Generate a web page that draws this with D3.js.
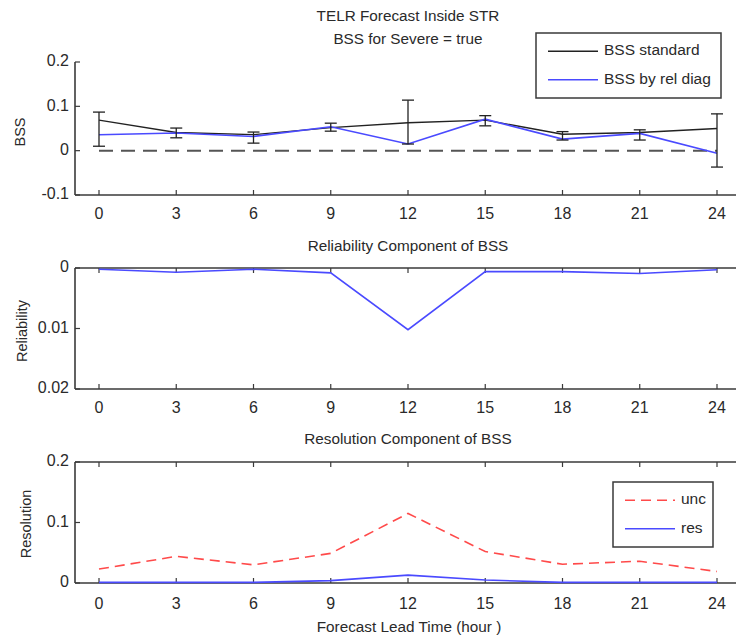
<!DOCTYPE html>
<html>
<head>
<meta charset="utf-8">
<script src="https://cdn.jsdelivr.net/npm/d3@7"></script>
<style>
body { margin: 0; background: #fff; }
text { font-family: "Liberation Sans", Arial, sans-serif; fill: #2a2a2a; }
</style>
</head>
<body>
<svg id="chart" width="736" height="641"></svg>
<script>
// valeurs
var leadTimes = [0, 3, 6, 9, 12, 15, 18, 21, 24];
var bssStandard = [0.069, 0.041, 0.036, 0.052, 0.063, 0.069, 0.037, 0.041, 0.050];
var bssUpper = [0.087, 0.051, 0.042, 0.062, 0.114, 0.079, 0.043, 0.047, 0.083];
var bssLower = [0.010, 0.029, 0.017, 0.044, 0.015, 0.056, 0.024, 0.024, -0.037];
var bssRelDiag = [0.036, 0.040, 0.032, 0.054, 0.015, 0.071, 0.026, 0.039, -0.006];
var reliability = [0.0002, 0.0007, 0.0002, 0.0008, 0.0102, 0.0006, 0.0006, 0.0009, 0.0003];
var uncValues = [0.023, 0.044, 0.030, 0.049, 0.115, 0.052, 0.031, 0.036, 0.019];
var resValues = [0.001, 0.001, 0.001, 0.004, 0.013, 0.005, 0.001, 0.001, 0.001];
var bssTicks = [-0.1, 0, 0.1, 0.2];
var relTicks = [0, 0.01, 0.02];
var resTicks = [0, 0.1, 0.2];

var svg = d3.select("#chart");
var left = 75, right = 760;
var axisColor = "#3a3a3a";
var blue = "#4a4aff";

var x = d3.scaleLinear().domain([0, 24]).range([99, 717]);

function fmt(d){ return d === 0 ? "0" : String(d); }

function drawPanel(y, ticks, boxed, xLabelY){
    let g = svg.append("g");
    let y0 = y.range()[0], y1 = y.range()[1];
    let bottom = Math.max(y0, y1), top = Math.min(y0, y1);
    // cadre
    g.append("line").attr("x1", left).attr("x2", left).attr("y1", top).attr("y2", bottom)
        .attr("stroke", axisColor).attr("stroke-width", 1.6);
    g.append("line").attr("x1", left).attr("x2", right).attr("y1", bottom).attr("y2", bottom)
        .attr("stroke", axisColor).attr("stroke-width", 1.6);
    if (boxed){
        g.append("line").attr("x1", left).attr("x2", right).attr("y1", top).attr("y2", top)
            .attr("stroke", axisColor).attr("stroke-width", 1.6);
    }
    // ticks x
    for (let t of leadTimes){
        g.append("line").attr("x1", x(t)).attr("x2", x(t)).attr("y1", bottom).attr("y2", bottom - 5)
            .attr("stroke", axisColor).attr("stroke-width", 1.2);
        if (boxed){
            g.append("line").attr("x1", x(t)).attr("x2", x(t)).attr("y1", top).attr("y2", top + 5)
                .attr("stroke", axisColor).attr("stroke-width", 1.2);
        }
        g.append("text").attr("x", x(t)).attr("y", xLabelY).attr("text-anchor", "middle")
            .attr("dominant-baseline", "middle").style("font-size", "16px").text(t);
    }
    // ticks y
    for (let t of ticks){
        g.append("line").attr("x1", left).attr("x2", left + 5).attr("y1", y(t)).attr("y2", y(t))
            .attr("stroke", axisColor).attr("stroke-width", 1.2);
        g.append("text").attr("x", left - 6).attr("y", y(t)).attr("text-anchor", "end")
            .attr("dominant-baseline", "middle").style("font-size", "16px").text(fmt(t));
    }
    return g;
}

function yLabel(txt, cx, cy){
    svg.append("text").attr("transform", "translate(" + cx + "," + cy + ") rotate(-90)")
        .attr("text-anchor", "middle").attr("dominant-baseline", "middle")
        .style("font-size", "14.5px").text(txt);
}

function title(txt, cy){
    svg.append("text").attr("x", 408).attr("y", cy).attr("text-anchor", "middle")
        .attr("dominant-baseline", "middle").style("font-size", "15.3px").text(txt);
}

function legend(items, bx, by, bw, bh){
    let g = svg.append("g");
    g.append("rect").attr("x", bx).attr("y", by).attr("width", bw).attr("height", bh)
        .attr("fill", "#fff").attr("stroke", axisColor).attr("stroke-width", 1.5);
    items.forEach((it, i) => {
        let ry = by + bh * (i + 0.5) / items.length + (i === 0 ? 2 : -2);
        g.append("line").attr("x1", bx + 12).attr("x2", bx + 62).attr("y1", ry).attr("y2", ry)
            .attr("stroke", it.color).attr("stroke-width", 1.5)
            .attr("stroke-dasharray", it.dash || null);
        g.append("text").attr("x", bx + 68).attr("y", ry).attr("dominant-baseline", "middle")
            .style("font-size", "15.5px").text(it.label);
    });
}

let line = (ys, yScale) => d3.line()
    .x((d, i) => x(leadTimes[i]))
    .y(d => yScale(d))(ys);

// ---- panneau 1 : BSS
let yBss = d3.scaleLinear().domain([-0.1, 0.2]).range([195, 62]);
let p1 = drawPanel(yBss, bssTicks, false, 215);
p1.append("line").attr("x1", x(0)).attr("x2", x(24)).attr("y1", yBss(0)).attr("y2", yBss(0))
    .attr("stroke", "#555").attr("stroke-width", 2).attr("stroke-dasharray", "14 8");
p1.append("path").attr("d", line(bssStandard, yBss)).attr("fill", "none")
    .attr("stroke", "#222").attr("stroke-width", 1.3);
p1.append("path").attr("d", line(bssRelDiag, yBss)).attr("fill", "none")
    .attr("stroke", blue).attr("stroke-width", 1.6);
leadTimes.forEach((t, i) => {
    let cx = x(t);
    p1.append("line").attr("x1", cx).attr("x2", cx).attr("y1", yBss(bssUpper[i])).attr("y2", yBss(bssLower[i]))
        .attr("stroke", "#222").attr("stroke-width", 1.3);
    [bssUpper[i], bssLower[i]].forEach(v => {
        p1.append("line").attr("x1", cx - 6).attr("x2", cx + 6).attr("y1", yBss(v)).attr("y2", yBss(v))
            .attr("stroke", "#222").attr("stroke-width", 1.3);
    });
});
yLabel("BSS", 21, 132);
title("TELR Forecast Inside STR", 17);
title("BSS for Severe = true", 40);
legend([{label: "BSS standard", color: "#222"}, {label: "BSS by rel diag", color: blue}], 536, 33, 185, 65);

// ---- panneau 2 : fiabilite
let yRel = d3.scaleLinear().domain([0, 0.02]).range([268, 389]);
let p2 = drawPanel(yRel, relTicks, true, 409);
p2.append("path").attr("d", line(reliability, yRel)).attr("fill", "none")
    .attr("stroke", blue).attr("stroke-width", 1.6);
yLabel("Reliability", 23, 331);
title("Reliability Component of BSS", 247);

// ---- panneau 3 : resolution
let yRes = d3.scaleLinear().domain([0, 0.2]).range([583, 462]);
let p3 = drawPanel(yRes, resTicks, true, 605);
p3.append("path").attr("d", line(uncValues, yRes)).attr("fill", "none")
    .attr("stroke", "#ff4a4a").attr("stroke-width", 1.6).attr("stroke-dasharray", "10 6");
p3.append("path").attr("d", line(resValues, yRes)).attr("fill", "none")
    .attr("stroke", blue).attr("stroke-width", 1.6);
yLabel("Resolution", 27, 524);
title("Resolution Component of BSS", 440);
svg.append("text").attr("x", 409).attr("y", 628).attr("text-anchor", "middle")
    .attr("dominant-baseline", "middle").style("font-size", "15.3px").text("Forecast Lead Time (hour )");
legend([{label: "unc", color: "#ff4a4a", dash: "10 6"}, {label: "res", color: blue}], 613, 482, 100, 65);
</script>
</body>
</html>
